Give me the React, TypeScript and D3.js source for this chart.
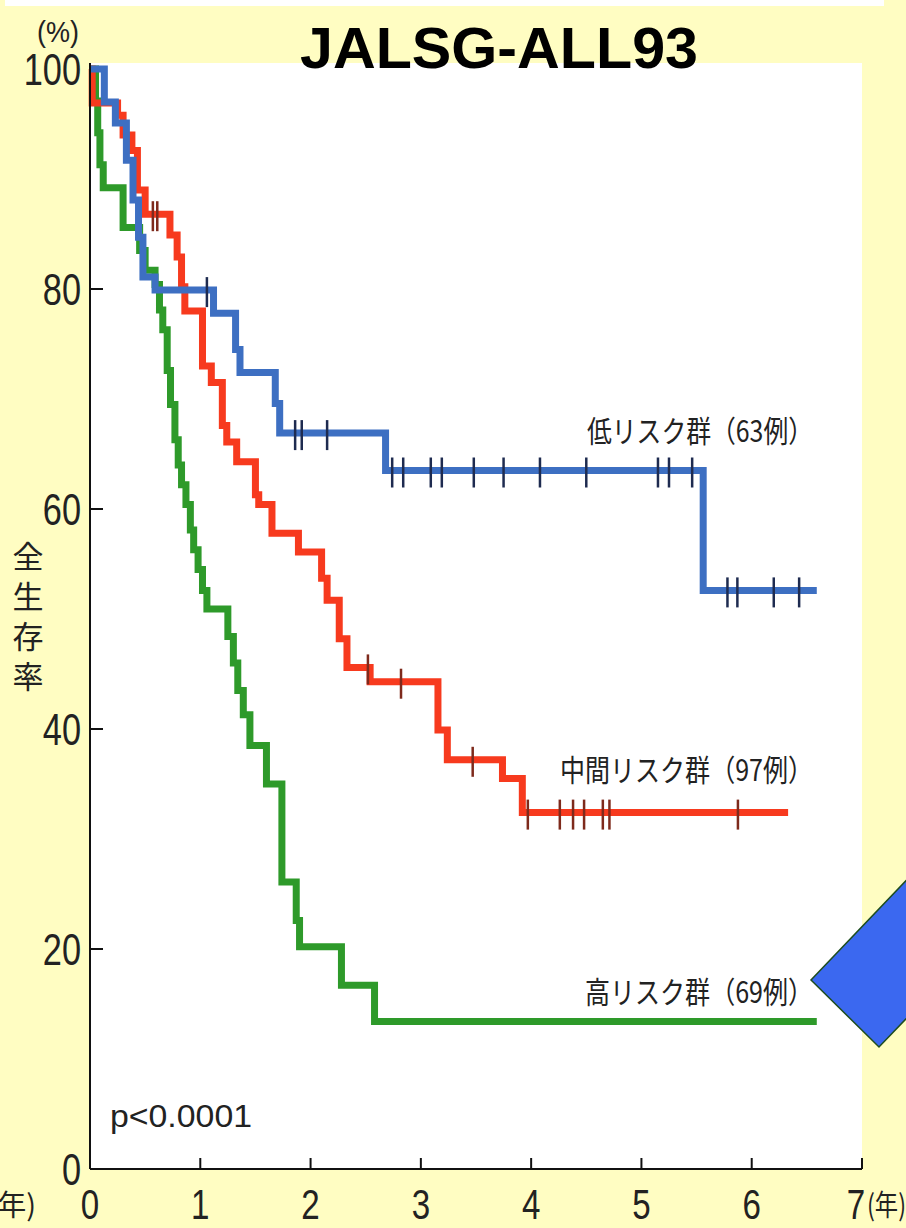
import React from "react";
import * as d3 from "d3";

// ---------- data ----------
const title = "JALSG-ALL93";
const yTicks = [0, 20, 40, 60, 80, 100];
const xTicks = [0, 1, 2, 3, 4, 5, 6, 7];
const yAxisLabel = "全生存率";

// Low risk (blue)
const lowTimes = [0, 0.13, 0.23, 0.33, 0.39, 0.44, 0.48, 0.59, 1.12, 1.32, 1.36, 1.68, 1.72, 2.68, 5.56, 6.59];
const lowSurv = [100, 97.0, 95.1, 91.7, 88.1, 84.7, 81.1, 79.9, 77.8, 74.5, 72.4, 69.6, 66.9, 63.5, 52.6, 52.6];
const lowCensor = [1.06, 1.86, 1.92, 2.15, 2.74, 2.84, 3.09, 3.19, 3.48, 3.75, 4.08, 4.5, 5.15, 5.25, 5.46, 5.78, 5.87, 6.2, 6.43];

// Intermediate risk (red)
const midTimes = [0, 0.02, 0.25, 0.3, 0.38, 0.43, 0.5, 0.725, 0.79, 0.83, 0.86, 1.02, 1.1, 1.2, 1.24, 1.33, 1.5, 1.53, 1.65, 1.89, 2.1, 2.15, 2.26, 2.33, 2.54, 3.155, 3.24, 3.74, 3.92, 6.33];
const midSurv = [100, 96.9, 95.8, 94.0, 92.6, 89.0, 86.8, 84.9, 82.9, 80.2, 78.0, 73.0, 71.5, 67.6, 66.1, 64.3, 61.3, 60.4, 57.8, 56.1, 53.7, 51.7, 48.2, 45.6, 44.3, 39.9, 37.2, 35.5, 32.4, 32.4];
const midCensor = [0.57, 0.61, 2.52, 2.82, 3.47, 3.97, 4.26, 4.38, 4.48, 4.65, 4.71, 5.875];

// High risk (green)
const highTimes = [0, 0.05, 0.07, 0.09, 0.12, 0.3, 0.45, 0.5, 0.59, 0.63, 0.66, 0.7, 0.73, 0.77, 0.8, 0.83, 0.87, 0.91, 0.94, 0.98, 1.02, 1.06, 1.25, 1.3, 1.34, 1.39, 1.45, 1.6, 1.74, 1.87, 1.9, 2.28, 2.58, 6.59];
const highSurv = [100, 97.1, 94.2, 91.3, 89.2, 85.6, 83.5, 81.7, 80.4, 78.1, 76.3, 72.6, 69.5, 66.3, 64.0, 62.2, 60.4, 58.1, 56.3, 54.5, 52.6, 50.9, 48.4, 46.0, 43.5, 41.3, 38.5, 35.0, 26.1, 22.6, 20.2, 16.7, 13.4, 13.4];
const highCensor: number[] = [];

const groupLabels = ["低リスク群（63例）", "中間リスク群（97例）", "高リスク群（69例）"];
const pValue = "p<0.0001";

// ---------- layout ----------
const W = 906;
const H = 1228;
const x = d3.scaleLinear().domain([0, 7]).range([90, 862]);
const y = d3.scaleLinear().domain([0, 100]).range([1169, 69]);

const BG = "#FFFDC2";
const numFont = "'Liberation Sans', Arial, sans-serif";
const jpFont = "'Noto Sans CJK JP', 'Noto Sans', sans-serif";

const series = [
  { times: highTimes, surv: highSurv, censor: highCensor, color: "#2E9A2A", tick: "#1E5A1E" },
  { times: midTimes, surv: midSurv, censor: midCensor, color: "#F73A1E", tick: "#7E2A1C" },
  { times: lowTimes, surv: lowSurv, censor: lowCensor, color: "#3D6FC2", tick: "#1E2B50" },
];

const labelPos = [
  { s: 63.5, dy: -29, x1: 587, x2: 813 },
  { s: 32.4, dy: -32, x1: 560, x2: 813 },
  { s: 13.4, dy: -19, x1: 585, x2: 813 },
];

function survAt(times: number[], surv: number[], t: number) {
  const i = d3.bisectRight(times, t) - 1;
  return surv[Math.max(0, i)];
}

const line = d3
  .line<[number, number]>()
  .x((d) => x(d[0]))
  .y((d) => y(d[1]))
  .curve(d3.curveStepAfter);

export default function App() {
  return (
    <svg
      width={W}
      height={H}
      viewBox={`0 0 ${W} ${H}`}
      style={{ position: "absolute", left: 0, top: 0, display: "block" }}
    >
      <rect x={0} y={0} width={W} height={H} fill={BG} />
      <rect x={5} y={0} width={879} height={6} fill="#ffffff" />
      <rect x={x(0)} y={63} width={x(7) - x(0)} height={y(0) - 63} fill="#ffffff" />

      {/* title */}
      <text
        x={499}
        y={68}
        textAnchor="middle"
        fontFamily={numFont}
        fontWeight="bold"
        fontSize={58}
        textLength={398}
        lengthAdjust="spacingAndGlyphs"
        fill="#000"
      >
        {title}
      </text>

      {/* (%) */}
      <text x={37} y={42} fontFamily={numFont} fontSize={30} fill="#222" textLength={42} lengthAdjust="spacingAndGlyphs">
        (%)
      </text>

      {/* y axis label (vertical) */}
      <text
        x={28}
        y={541}
        fontFamily={jpFont}
        fontSize={31}
        fill="#222"
        style={{ writingMode: "vertical-rl" } as React.CSSProperties}
        letterSpacing={9}
      >
        {yAxisLabel}
      </text>

      {/* y tick labels and ticks */}
      {yTicks.map((v) => (
        <g key={"y" + v}>
          <text
            x={0}
            y={0}
            textAnchor="end"
            fontFamily={numFont}
            fontSize={44}
            fill="#222"
            transform={`translate(81,${y(v) + 16}) scale(0.78,1)`}
          >
            {v}
          </text>
          {v > 0 && v < 100 && (
            <line x1={x(0)} x2={x(0) + 13} y1={y(v)} y2={y(v)} stroke="#111" strokeWidth={2} />
          )}
        </g>
      ))}

      {/* x tick labels and ticks */}
      {xTicks.map((v) => (
        <g key={"x" + v}>
          <text
            x={0}
            y={0}
            textAnchor="middle"
            fontFamily={numFont}
            fontSize={43}
            fill="#222"
            transform={`translate(${x(v) - (v === 7 ? 6 : 0)},${1219}) scale(0.77,1)`}
          >
            {v}
          </text>
          {v > 0 && (
            <line x1={x(v)} x2={x(v)} y1={y(0)} y2={y(0) - 11} stroke="#111" strokeWidth={2} />
          )}
        </g>
      ))}
      <text x={867} y={1216} fontFamily={jpFont} fontSize={29} fill="#222" textLength={39} lengthAdjust="spacingAndGlyphs">
        (年)
      </text>
      <text x={36} y={1216} textAnchor="end" fontFamily={jpFont} fontSize={29} fill="#222">
        (年)
      </text>

      {/* curves */}
      {series.map((s, k) => (
        <path
          key={"c" + k}
          d={line(s.times.map((t, i) => [t, s.surv[i]] as [number, number])) || ""}
          fill="none"
          stroke={s.color}
          strokeWidth={7}
          strokeLinejoin="miter"
        />
      ))}

      {/* censor marks */}
      {series.map((s, k) =>
        s.censor.map((t, j) => {
          const sv = survAt(s.times, s.surv, t);
          return (
            <line
              key={"m" + k + "-" + j}
              x1={x(t)}
              x2={x(t)}
              y1={y(sv) - 13}
              y2={y(sv) + 17}
              stroke={s.tick}
              strokeWidth={2.5}
            />
          );
        })
      )}

      {/* axes */}
      <line x1={x(0)} x2={x(0)} y1={63} y2={y(0)} stroke="#111" strokeWidth={2} />
      <line x1={x(0)} x2={x(7)} y1={y(0)} y2={y(0)} stroke="#111" strokeWidth={2} />

      {/* group labels */}
      {groupLabels.map((g, i) => (
        <text
          key={g}
          x={labelPos[i].x1}
          y={y(labelPos[i].s) + labelPos[i].dy}
          fontFamily={jpFont}
          fontSize={30}
          fill="#222"
          textLength={labelPos[i].x2 - labelPos[i].x1}
          lengthAdjust="spacingAndGlyphs"
        >
          {g}
        </text>
      ))}

      {/* p value */}
      <text x={110} y={1127} fontFamily={numFont} fontSize={32} fill="#222" textLength={142} lengthAdjust="spacingAndGlyphs">
        {pValue}
      </text>

      {/* decorative diamond */}
      <polygon
        points="811,980 879,1047 1030,890 962,822"
        fill="#3B68F0"
        stroke="#1E4D1E"
        strokeWidth={1.5}
      />
    </svg>
  );
}
